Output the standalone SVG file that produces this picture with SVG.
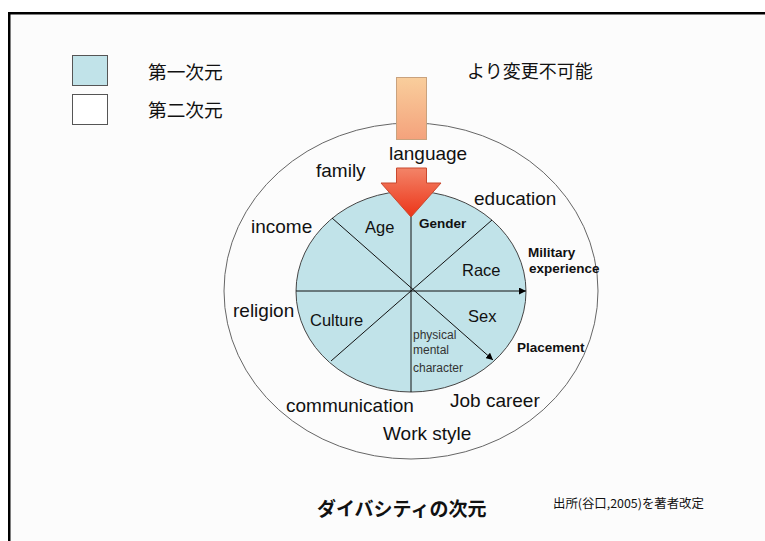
<svg xmlns="http://www.w3.org/2000/svg" width="765" height="541" viewBox="0 0 765 541">
<defs>
<linearGradient id="gOrange" x1="0" y1="0" x2="0" y2="1">
<stop offset="0" stop-color="#F9CE9C"/>
<stop offset="1" stop-color="#F4A27C"/>
</linearGradient>
<linearGradient id="gRed" x1="0" y1="0" x2="0" y2="1">
<stop offset="0" stop-color="#F38468"/>
<stop offset="1" stop-color="#EC3418"/>
</linearGradient>
<marker id="ah" viewBox="0 0 10 10" refX="10" refY="5" markerWidth="7" markerHeight="7" markerUnits="userSpaceOnUse" orient="auto">
<path d="M0,0 L10,5 L0,10 z" fill="#000"/>
</marker>
</defs>
<style>
.en{font-family:"Liberation Sans",Arial,sans-serif;fill:#111}
.lg{font-size:19px}
.md{font-size:16.5px}
.bd{font-size:13.5px;font-weight:bold}
.sm{font-size:12px;fill:#333}
.jp{font-family:"Noto Sans CJK JP","Noto Sans CJK SC",sans-serif;fill:#111}
.ln{stroke:#111;stroke-width:1;fill:none}
</style>
<rect width="765" height="541" fill="#fff"/>
<rect x="9.25" y="13.25" width="800" height="600" fill="#FCFCFC" stroke="#000" stroke-width="2.5"/>

<g id="legend">
<rect x="72.5" y="55.5" width="35" height="30" fill="#C1E3E9" stroke="#555" stroke-width="1"/>
<rect x="72.5" y="94.5" width="35" height="30" fill="#fff" stroke="#555" stroke-width="1"/>
<text class="jp" x="148" y="79" font-size="18.7">第一次元</text>
<text class="jp" x="148" y="117" font-size="18.7">第二次元</text>
</g>

<text class="jp" x="467" y="78" font-size="18">より変更不可能</text>

<g id="outer">
<ellipse cx="411" cy="291" rx="187" ry="168" fill="none" stroke="#666" stroke-width="1"/>
</g>

<g id="inner">
<ellipse cx="411" cy="291.5" rx="115" ry="100.5" fill="#C1E3E9" stroke="#444" stroke-width="1"/>
</g>

<g id="connectors">
<line class="ln" x1="411" y1="215" x2="411" y2="392"/>
<line class="ln" x1="296" y1="291" x2="526" y2="291" marker-end="url(#ah)"/>
<line class="ln" x1="332" y1="218" x2="493" y2="360" marker-end="url(#ah)"/>
<line class="ln" x1="492" y1="220" x2="331" y2="361"/>
</g>

<g id="bar">
<rect x="396.5" y="77.5" width="30" height="62" fill="url(#gOrange)" stroke="#C9A27E" stroke-width="1"/>
</g>
<g id="arrow">
<polygon points="396.5,168 426.5,168 426.5,183 441,183 411,217 381,183 396.5,183" fill="url(#gRed)" stroke="#C9482E" stroke-width="1"/>
</g>

<g id="outer-labels">
<text class="en lg" x="389" y="160">language</text>
<text class="en lg" x="316" y="177">family</text>
<text class="en lg" x="474" y="205">education</text>
<text class="en lg" x="251" y="233">income</text>
<text class="en lg" x="233" y="317">religion</text>
<text class="en lg" x="286" y="412">communication</text>
<text class="en lg" x="450" y="407">Job career</text>
<text class="en lg" x="383" y="440">Work style</text>
<text class="en bd" x="528" y="257">Military</text>
<text class="en bd" x="529" y="273">experience</text>
<text class="en bd" x="517" y="352">Placement</text>
</g>

<g id="inner-labels">
<text class="en md" x="365" y="233">Age</text>
<text class="en bd" x="419" y="228">Gender</text>
<text class="en md" x="462" y="276">Race</text>
<text class="en md" x="468" y="322">Sex</text>
<text class="en md" x="310" y="326">Culture</text>
<text class="en sm" x="413" y="339">physical</text>
<text class="en sm" x="413" y="354">mental</text>
<text class="en sm" x="413" y="372">character</text>
</g>

<text class="jp" x="317" y="516" font-size="19" font-weight="bold">ダイバシティの次元</text>
<text class="jp" x="553" y="508" font-size="12.4">出所(谷口,2005)を著者改定</text>
</svg>
